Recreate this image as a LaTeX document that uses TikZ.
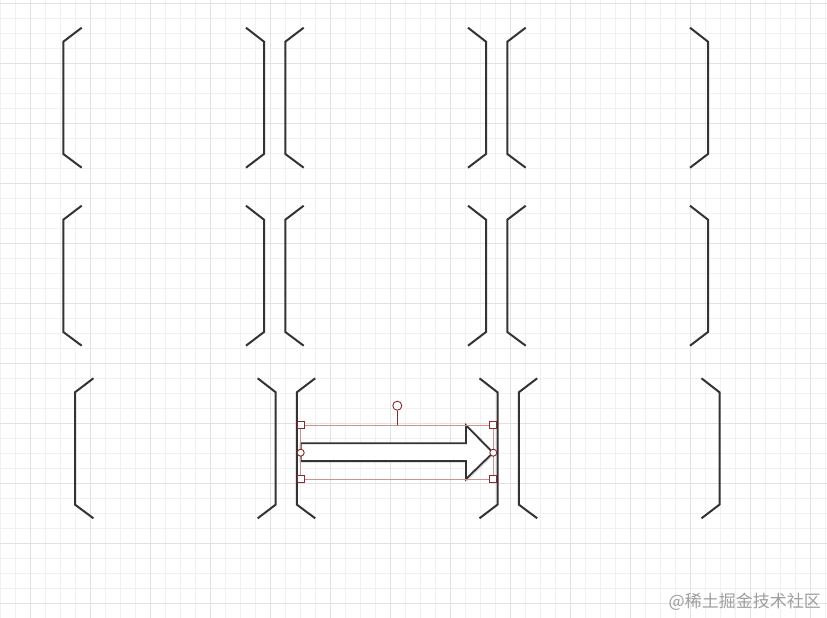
\documentclass[tikz,border=0pt]{standalone}
\usepackage{fontspec}
\newfontfamily\cjk{Noto Sans CJK SC}
\definecolor{minorg}{HTML}{F1F1F1}
\definecolor{majorg}{HTML}{E2E2E2}
\definecolor{ink}{HTML}{333333}
\definecolor{hred}{HTML}{8B2A2A}
\definecolor{selbox}{HTML}{C99393}
\begin{document}
\begin{tikzpicture}[x=1pt,y=-1pt,
  brk/.style={draw=ink,line width=2pt,line join=miter},
  handlesq/.style={draw=hred,fill=white,line width=0.9pt},
  handlecirc/.style={draw=hred,fill=white,line width=0.9pt}]
\useasboundingbox (0,0) rectangle (827,618);
\fill[white] (0,0) rectangle (827,618);
% grid
\foreach \x in {0,15,...,825} \draw[minorg,line width=0.8pt] (\x,0) -- (\x,618);
\foreach \y in {3.3,18.3,...,618} \draw[minorg,line width=0.8pt] (0,\y) -- (827,\y);
\foreach \x in {30,90,...,825} \draw[majorg,line width=0.9pt] (\x,0) -- (\x,618);
\foreach \y in {3.3,63.3,...,618} \draw[majorg,line width=0.9pt] (0,\y) -- (827,\y);
% brackets
\foreach \ox/\oy in {0/0,222/0,444/0,0/178,222/178,444/178,11.7/350.6,233.5/350.6,455.5/350.6}{
  \draw[brk] (81.7+\ox,27.7+\oy) -- (63.3+\ox,41.7+\oy) -- (63.3+\ox,154+\oy) -- (81.7+\ox,167.7+\oy);
  \draw[brk] (246+\ox,27.7+\oy) -- (264+\ox,41.7+\oy) -- (264+\ox,154+\oy) -- (246+\ox,167.7+\oy);
}
% arrow
\draw[ink!35,line width=2.5pt,line join=miter,opacity=0.45] (301.5,444) -- (466.8,444) -- (466.8,426) -- (493.8,453.4) -- (466.8,479.7) -- (466.8,461.7) -- (301.5,461.7) -- cycle;
\draw[ink,fill=white,line width=1.8pt,line join=miter] (300.7,443.3) -- (466,443.3) -- (466,425.3) -- (493,452.7) -- (466,479) -- (466,461) -- (300.7,461) -- cycle;
% selection
\draw[selbox,line width=0.7pt] (300.7,425.3) rectangle (493.3,479);
\draw[hred,line width=0.8pt] (397.3,410.5) -- (397.3,425.3);
\node[handlecirc,circle,minimum size=9pt,inner sep=0pt] (rot) at (397.3,405.7) {};
\foreach \p/\q [count=\i] in {300.7/425.3,493.3/425.3,300.7/479,493.3/479}
  \node[handlesq,rectangle,minimum size=7pt,inner sep=0pt] (sq\i) at (\p,\q) {};
\node[handlecirc,circle,minimum size=7pt,inner sep=0pt] (ml) at (300.7,452.7) {};
\node[handlecirc,circle,minimum size=7pt,inner sep=0pt] (mr) at (493.3,452.7) {};
% watermark
\node[anchor=east,text=black!38,font=\cjk\fontsize{17pt}{19pt}\selectfont,inner sep=0pt] (wm) at (821,602) {@稀土掘金技术社区};
\end{tikzpicture}
\end{document}
